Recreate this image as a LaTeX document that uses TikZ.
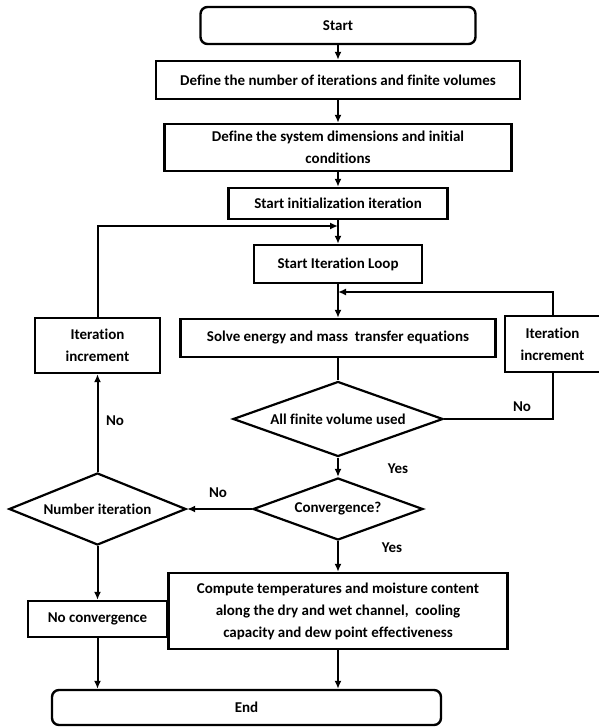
\documentclass[tikz,border=0pt]{standalone}
\usepackage{fontspec}
\setmainfont{Carlito}[RawFeature={-liga}]
\usetikzlibrary{shapes.geometric,arrows.meta}

\begin{document}
\begin{tikzpicture}[
    x=1pt,y=-1pt,
    font=\fontsize{15}{22}\selectfont\bfseries,
    line width=2pt
  ]
\useasboundingbox (0,0) rectangle (598,727);
\def\mx{338}

\tikzstyle{box}=[draw,rectangle,line width=2.4pt,inner sep=0pt,align=center];
\tikzstyle{term}=[box,rounded corners=7pt];
\tikzstyle{test}=[draw,diamond,line width=2.2pt,inner sep=0pt,align=center];
\tikzstyle{arr}=[-{Latex[length=8pt,width=7pt]}];

% main column
\node[term,minimum width=275pt,minimum height=37pt] (start) at (\mx,25.5) {Start};
\node[box,minimum width=364pt,minimum height=38pt] (defn) at (\mx,80) {Define the number of iterations and finite volumes};
\node[box,minimum width=347pt,minimum height=47pt] (defs) at (\mx,147.5) {Define the system dimensions and initial\\conditions};
\node[box,minimum width=219pt,minimum height=31pt] (init) at (\mx,203.5) {Start initialization iteration};
\node[box,minimum width=168pt,minimum height=38pt] (loop) at (\mx,264) {Start Iteration Loop};
\node[box,minimum width=315pt,minimum height=38pt] (solve) at (\mx,338) {Solve energy and mass~ transfer equations};
\node[test,aspect=2.8,minimum width=210pt,minimum height=75pt] (used) at (\mx,419) {All finite volume used};
\node[test,aspect=2.7,minimum width=170pt,minimum height=62pt] (conv) at (\mx,509) {Convergence?};
\node[box,minimum width=339pt,minimum height=76pt] (comp) at (\mx,611) {Compute temperatures and moisture content\\along the dry and wet channel,~ cooling\\capacity and dew point effectiveness};

% side columns
\node[box,minimum width=125pt,minimum height=55pt] (incl) at (97.5,345.5) {Iteration\\increment};
\node[box,minimum width=95pt,minimum height=56pt] (incr) at (552.5,344) {Iteration\\increment};
\node[test,aspect=2.5,minimum width=177pt,minimum height=72pt] (numit) at (97.5,509) {Number iteration};
\node[box,minimum width=139pt,minimum height=36pt] (nocv) at (97.5,619) {No convergence};
\node[term,minimum width=389pt,minimum height=35pt] (end) at (246.5,707.5) {End};

\coordinate (j1) at (\mx,226);
\coordinate (j2) at (\mx,292);

\draw[arr] (start) -- (defn);
\draw[arr] (defn) -- (defs);
\draw[arr] (defs) -- (init);
\draw[arr] (init) -- (loop);
\draw[arr] (incl.north) |- (j1);
\draw[arr] (loop) -- (solve);
\draw[arr] (incr.north) |- (j2);
\draw (solve) -- (used);
\draw (used.east) -| (incr.south);
\draw[arr] (used) -- (conv);
\draw[arr] (conv.west) -- (numit.east);
\draw[arr] (numit.north) -- (incl.south);
\draw[arr] (conv) -- (comp);
\draw[arr] (numit) -- (nocv);
\draw[arr] (nocv) -- (nocv |- end.north);
\draw[arr] (comp) -- (comp |- end.north);

\node (nor) at (522,407) {No};
\node (yes1) at (398,469) {Yes};
\node (nol) at (218,493) {No};
\node (yes2) at (392,548) {Yes};
\node (nou) at (115,421) {No};

\end{tikzpicture}
\end{document}
